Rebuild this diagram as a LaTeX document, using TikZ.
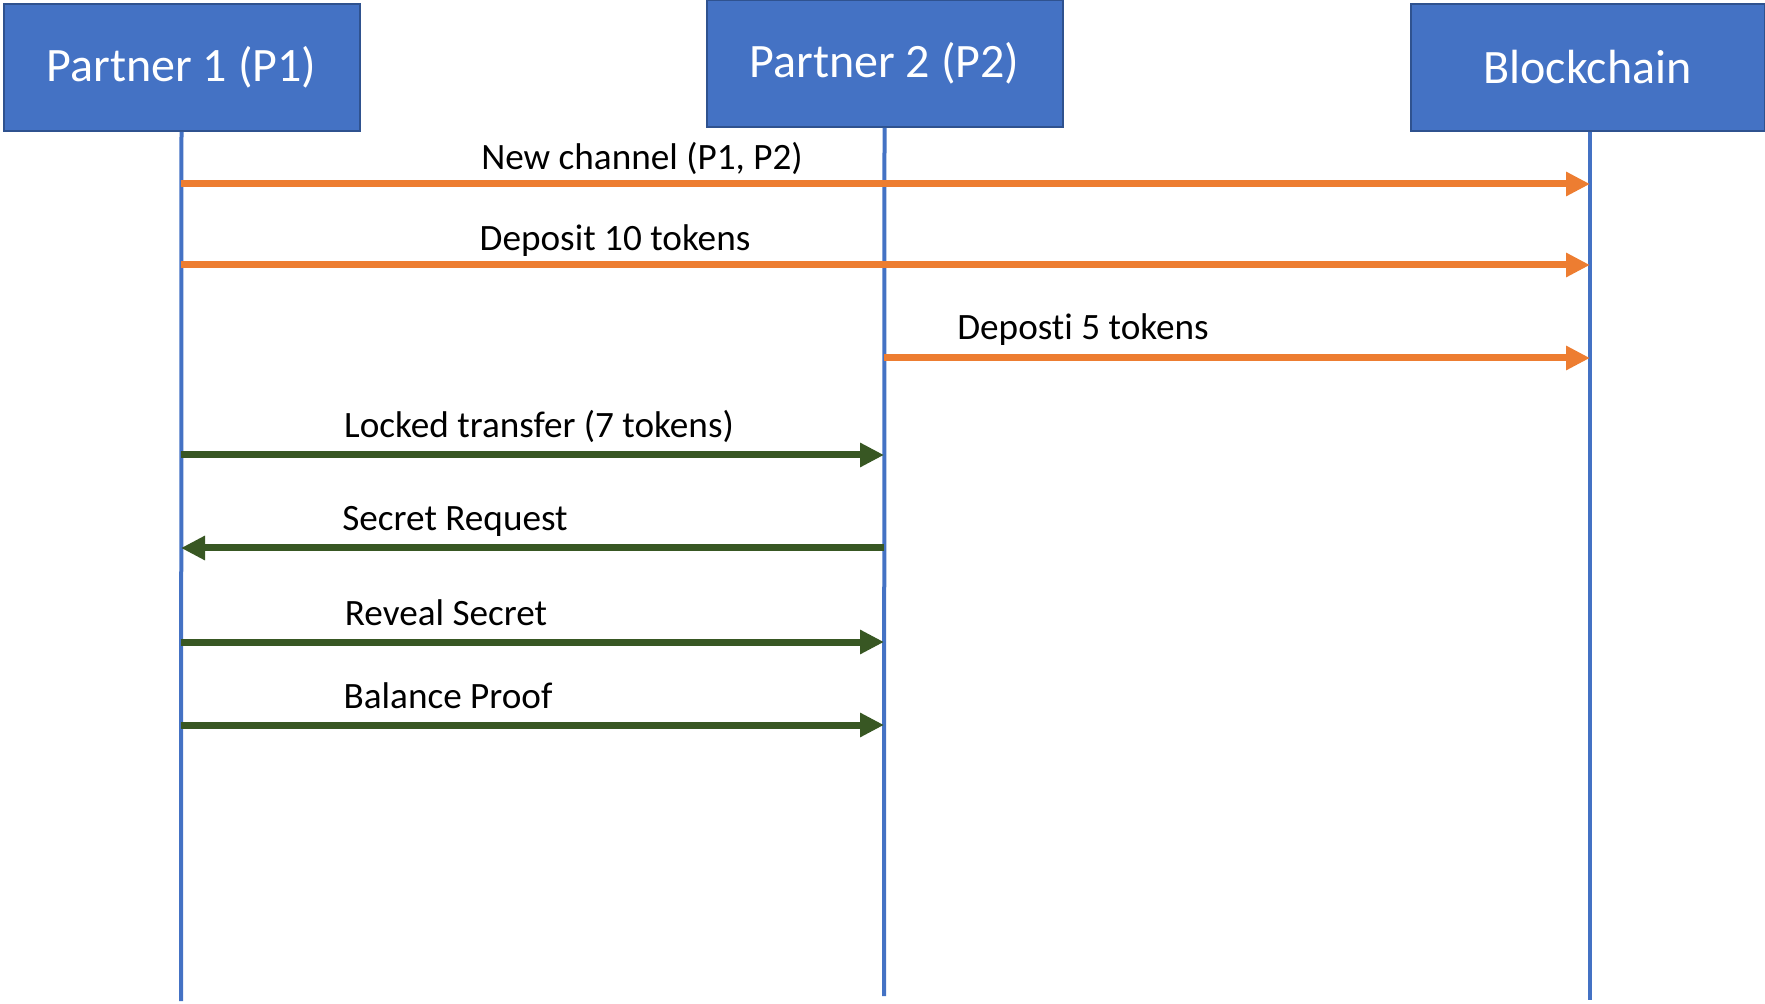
\documentclass[tikz,border=0pt]{standalone}
\usepackage{fontspec}
\setmainfont{Carlito}[Ligatures=NoCommon]
\usepackage{tikz}
\usetikzlibrary{positioning, arrows.meta}

\definecolor{boxblue}{HTML}{4472C4}
\definecolor{boxedge}{HTML}{2F528F}
\definecolor{chainorange}{HTML}{ED7D31}
\definecolor{offgreen}{HTML}{385723}

\tikzset{
  party/.style={draw=boxedge, line width=1pt, fill=boxblue, text=white,
    minimum width=178pt, minimum height=63.5pt, inner sep=0pt,
    font=\fontsize{24}{28}\selectfont},
  lifeline/.style={draw=boxblue, line width=2pt},
  onchain/.style={draw=chainorange, line width=3.5pt, -{Triangle[length=12pt, width=11.5pt]}},
  offchain/.style={draw=offgreen, line width=3.5pt, -{Triangle[length=12pt, width=11.5pt]}},
  msglabel/.style={anchor=base, inner sep=0pt, font=\fontsize{18.6}{22}\selectfont}
}

\begin{document}
\begin{tikzpicture}[x=0.5pt, y=-0.5pt]
\useasboundingbox (0,0) rectangle (1765,1004);

% Lifelines first, boxes on top
\coordinate (p1end) at (181,1001);
\coordinate (p2end) at (884,996);
\coordinate (bcend) at (1590,1000);

\node[party] (p1) at (181.5,67.5) {\raisebox{-2pt}{Partner 1 (P1)}};
\node[party] (p2) at (884.5,63.5) {\raisebox{-2pt}{Partner 2 (P2)}};
\node[party, minimum width=177pt] (bc) at (1587.5,67.5) {\raisebox{-2pt}{Blockchain}};

\draw[lifeline] (p1.south) -- (p1end);
\draw[lifeline] (p2.south) -- (p2end);
\draw[lifeline] (bc.south -| bcend) -- (bcend);

% Message rows
\coordinate (m1) at (0,184);
\coordinate (m2) at (0,265);
\coordinate (m3) at (0,358);
\coordinate (m4) at (0,455);
\coordinate (m5) at (0,548);
\coordinate (m6) at (0,642);
\coordinate (m7) at (0,725);

% On-chain
\draw[onchain] (p1end |- m1) -- (bcend |- m1);
\node[msglabel] (l1) at (642,170) {New channel (P1, P2)};
\draw[onchain] (p1end |- m2) -- (bcend |- m2);
\node[msglabel] (l2) at (615,251) {Deposit 10 tokens};
\draw[onchain] (p2end |- m3) -- (bcend |- m3);
\node[msglabel] (l3) at (1083,340) {Deposti 5 tokens};

% Off-chain
\draw[offchain] (p1end |- m4) -- (p2end |- m4);
\node[msglabel] (l4) at (539,438) {Locked transfer (7 tokens)};
\draw[offchain] (p2end |- m5) -- (p1end |- m5);
\node[msglabel] (l5) at (455,531) {Secret Request};
\draw[offchain] (p1end |- m6) -- (p2end |- m6);
\node[msglabel] (l6) at (446,625) {Reveal Secret};
\draw[offchain] (p1end |- m7) -- (p2end |- m7);
\node[msglabel] (l7) at (448,708) {Balance Proof};
\end{tikzpicture}
\end{document}
